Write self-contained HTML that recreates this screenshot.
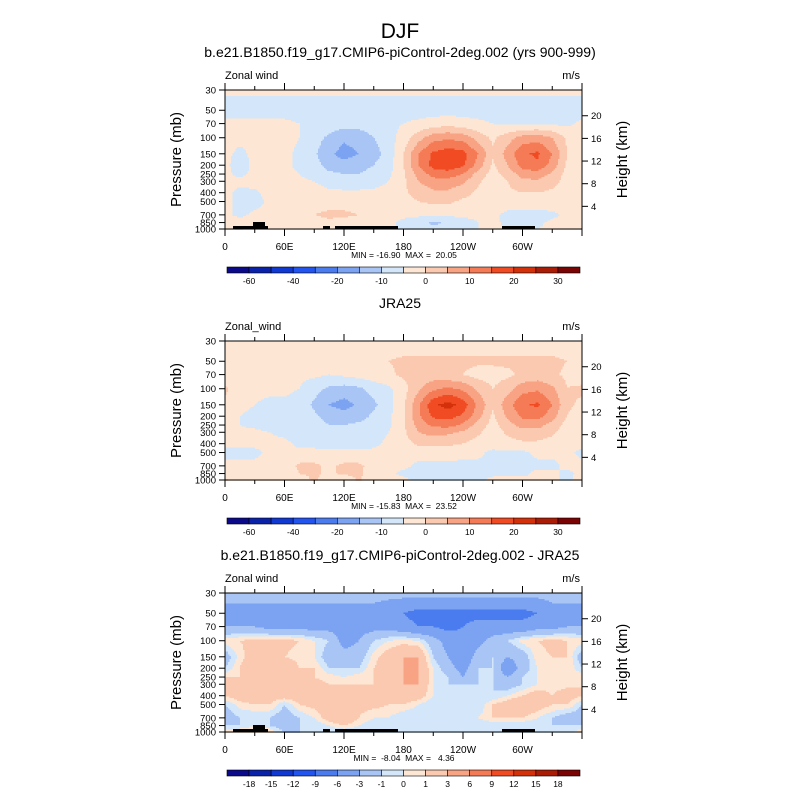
<!DOCTYPE html>
<html><head><meta charset="utf-8"><style>
html,body{margin:0;padding:0;background:#fff}
svg{font-family:"Liberation Sans",sans-serif}
text{white-space:pre}
</style></head><body>
<svg id="s" width="800" height="800" viewBox="0 0 800 800" xmlns="http://www.w3.org/2000/svg">
<rect width="800" height="800" fill="#fff"/>
<text x="400" y="38" font-size="21" text-anchor="middle">DJF</text>
</svg>
<script>
const pLevels=[30,50,70,100,150,200,250,300,400,500,700,850,1000];
const lonTickLabels=["0","60E","120E","180","120W","60W"];
const pTickLabels=[30,50,70,100,150,200,250,300,400,500,700,850,1000];
const hTickLabels=[4,8,12,16,20];
const colors=["#0a0a8a","#0a22aa","#1038d2","#2254f0","#4a7cf0","#7ca2f2","#a9c5f5","#d4e7fa","#fde7d4","#fbc9b0","#f8a484","#f57b56","#f04b22","#d4300a","#aa1c06","#7a0303"];
const bounds1=[-50,-40,-30,-20,-15,-10,-5,0,5,10,15,20,25,30,35];
const labels1=[-60,-40,-20,-10,0,10,20,30];
const labelIdx1=[1,3,5,7,9,11,13,15];
const bounds3=[-18,-15,-12,-9,-6,-3,-1,0,1,3,6,9,12,15,18];
const labels3=[-18,-15,-12,-9,-6,-3,-1,0,1,3,6,9,12,15,18];
const labelIdx3=[1,2,3,4,5,6,7,8,9,10,11,12,13,14,15];
const u1=[
[1,1,1,1,1,1,1,1,1,1,1,1,1,1,1,1,1,1,1,1,1,1,1,1,1],
[-2,-2,-2,-2,-2,-2,-2,-2,-2,-2,-2,-2,-2,-2,-2,-2,-2,-2,-2,-2,-2,-2,-2,-2,-2],
[1,1,1,1,1,0,-1,-2,-3,-3,-2,-1,0,1,2,3,2,1,0,-1,-1,-1,-1,-1,1],
[2,1,1,1,2,0,-3,-6,-9,-8,-5,-2,2,8,13,14,13,8,4,8,12,13,10,4,2],
[1,-1,1,1,1,-1,-4,-9,-12,-10,-7,-3,5,15,21,23,22,15,6,12,19,21,15,5,1],
[1,-2,1,2,1,-1,-3,-7,-8,-7,-5,-2,5,15,22,23,21,13,4,10,17,19,13,4,1],
[1,-1,1,2,1,0,-2,-4,-5,-5,-3,-1,4,12,17,18,15,8,3,7,12,13,9,3,1],
[1,1,2,2,2,1,0,-2,-3,-3,-2,0,4,10,13,13,11,6,2,5,9,9,7,3,1],
[1,-1,-1,2,2,2,2,1,1,1,1,2,4,7,9,9,7,4,2,4,5,5,4,2,1],
[1,-1,-2,1,2,3,3,3,3,3,2,2,3,5,6,6,4,3,2,2,3,3,3,1,1],
[1,-1,1,2,2,3,5,6,6,5,3,2,1,1,1,1,1,1,1,-1,-2,-2,-1,1,1],
[2,2,1,1,2,2,3,4,3,2,1,1,-1,-3,-6,-4,-2,0,1,-1,-2,-1,1,1,2],
[3,6,2,1,2,2,3,2,2,1,1,1,-1,-3,-4,-3,-2,0,1,0,0,0,1,1,3]];
const u2=[
[2,2,2,2,2,2,2,2,2,2,2,2,2,2,2,2,2,2,2,2,2,2,2,2,2],
[2,2,2,2,2,2,2,2,3,4,5,5,6,6,6,6,6,6,6,6,6,6,6,5,2],
[2,2,2,2,2,1,1,0,1,2,3,4,6,7,7,6,5,3,3,4,6,7,6,4,2],
[6,2,1,1,1,0,-3,-6,-7,-6,-3,-1,3,9,14,16,14,9,5,8,13,14,11,5,6],
[4,1,0,-1,-1,-2,-6,-10,-12,-9,-6,-2,4,14,24,27,23,14,6,13,19,21,15,6,4],
[2,0,-1,-2,-2,-2,-4,-7,-8,-7,-4,-1,4,14,21,22,19,12,4,11,16,17,12,5,2],
[1,0,-1,-2,-2,-2,-3,-5,-5,-4,-3,-1,4,12,16,17,14,8,3,8,12,12,8,3,1],
[1,1,1,0,-1,-2,-2,-3,-3,-3,-2,0,4,10,12,11,9,6,2,6,8,8,6,2,1],
[1,1,1,1,1,-1,-1,-2,-2,-2,-1,1,3,6,6,6,5,3,2,3,4,4,3,2,1],
[-1,-1,-1,1,1,1,1,1,1,1,1,1,1,2,2,2,1,1,-1,-1,-1,1,1,1,-1],
[1,1,1,2,2,6,6,4,6,6,3,1,1,-1,-1,-1,-1,-1,-1,-1,-1,-1,-1,1,1],
[1,1,2,2,2,5,6,4,6,6,2,1,-1,-1,-2,-2,-1,-1,-1,-1,-1,1,1,-1,1],
[6,1,2,1,1,2,6,2,1,6,1,1,1,-1,-2,-2,-1,-1,1,2,1,1,1,-1,2]];
const u3=[
[-2,-2,-2,-2,-2,-2,-2,-2,-2,-2,-2,-2,-2,-2,-2,-2,-2,-2,-2,-2,-2,-2,-2,-2,-2],
[-4,-4,-4,-4,-4,-4,-4,-4,-4,-4,-4,-5,-6,-7,-7,-7,-7,-7,-7,-7,-7,-6,-4,-4,-4],
[-3,-3,-3,-4,-4,-4,-4,-4,-4,-4,-4,-4,-5,-6,-6,-7,-6,-5,-5,-5,-5,-4,-4,-3,-3],
[0.5,1,1.5,1.5,1.5,1,0,-1,-4,-3,-1,0,0.5,0,-2,-4,-5,-4,-2,-1,0.5,1,1.5,1,0.5],
[-2,0.5,2,1.5,1,0.5,0,-2,-2,-2,0.5,2,3,3,-1,-3,-5,-2,-1,-3,-2,0.5,1,1,-2],
[-1,1,3,2,3,1,1,-1,-1,-1,1,2,3,3,0,-2,-4,-1,-1,-5,-2,0,0.5,1,-1],
[1,1,2,2,2,1.5,1,0.5,0,0.5,1,2,3,3,0,-1,-3,-1,-1,-3,-1,0,0.5,0.5,1],
[1,2,2,2,2,2,1.5,1,1,1,1,2,3,3,0,-1,-1,-1,-1,-2,-1,0,0.5,0.5,1],
[1,2,2,2,2,2,2,1.5,1,1,1.5,2,2,2,0,-1,-1,-1,-1,0,1,2,1,2,1],
[-1,0.5,1,1,-1,1,1.5,2,2,1.5,1.5,1,1,0,-1,-1,-1,-1,1,2,3,2,1,1,-1],
[-2,-1,-1,-1,-2,-1,0,2,3,1,0,0,-1,-1,-1,-1,-1,0,1,1,1,0,-1,-2,-2],
[-1,-1,0,-1,-2,-1,-1,0,1,0,-1,-1,-1,-1,-1,-1,-1,-1,-1,-1,-1,-1,-1,-1,-1],
[1,1,1,1,-1,-1,-1,-1,-1,-1,-1,-1,-1,-1,-1,-1,-1,-1,-1,-1,-1,-1,-1,-1,1]];
const panels=[
 {top:90,title:"b.e21.B1850.f19_g17.CMIP6-piControl-2deg.002 (yrs 900-999)",lab:"Zonal wind",data:u1,bounds:bounds1,labs:labels1,lidx:labelIdx1,mm:"MIN = -16.90  MAX =  20.05",topo:true},
 {top:341,title:"JRA25",lab:"Zonal_wind",data:u2,bounds:bounds1,labs:labels1,lidx:labelIdx1,mm:"MIN = -15.83  MAX =  23.52",topo:false},
 {top:593,title:"b.e21.B1850.f19_g17.CMIP6-piControl-2deg.002 - JRA25",lab:"Zonal wind",data:u3,bounds:bounds3,labs:labels3,lidx:labelIdx3,mm:"MIN =  -8.04  MAX =   4.36",topo:true}];
const NS="http://www.w3.org/2000/svg";
const svg=document.getElementById('s');
const X0=225,X1=582,PH=139,LR=Math.log10(1000/30);
function mk(t,a,p){const e=document.createElementNS(NS,t);for(const k in a)e.setAttribute(k,a[k]);(p||svg).appendChild(e);return e;}
function xs(lon){return X0+lon/360*(X1-X0);}
function ys(p,top){return top+PH-Math.log10(1000/p)/LR*PH;}
function colorOf(v,b){let i=0;while(i<b.length&&v>=b[i])i++;return colors[i];}
function sample(d,lon,p){
 const lp=Math.log(p);let j=0;
 while(j<pLevels.length-2&&Math.log(pLevels[j+1])<lp)j++;
 const a=Math.log(pLevels[j]),b=Math.log(pLevels[j+1]);
 let t=(lp-a)/(b-a);t=Math.max(0,Math.min(1,t));
 let fi=lon/15;let i=Math.min(23,Math.floor(fi));let s=fi-i;
 const v0=d[j][i]*(1-s)+d[j][i+1]*s, v1=d[j+1][i]*(1-s)+d[j+1][i+1]*s;
 return v0*(1-t)+v1*t;}
panels.forEach((P,k)=>{
 const top=P.top,bot=top+PH;
 const g=mk('g',{});
 
 
 const tt=mk('text',{x:400,y:top-33,'font-size':14,'text-anchor':'middle'},g);tt.textContent=P.title;
 
 
 const cg=mk('g',{},g);
 
 
 const dy=1.5,dx=1.5;
 for(let y=top;y<bot;y+=dy){
  const p=1000*Math.pow(10,-(bot-(y+dy/2))/PH*LR);
  let runStart=X0,runCol=null;
  for(let x=X0;x<=X1;x+=dx){
   let col=null;
   if(x<X1){const lon=(x+dx/2-X0)/(X1-X0)*360;col=colorOf(sample(P.data,lon,p),P.bounds);}
   if(col!==runCol){
    if(runCol!==null){const r=mk('rect',{x:runStart,y:y,width:Math.min(x,X1)-runStart+0.4,height:dy+0.4,fill:runCol},cg);
     
     }
    runStart=x;runCol=col;}
  }
 }
 if(P.topo){
  [[233,268,3],[253,265,7],[323,330,3],[335,398,3],[502,535,3]].forEach(t=>{
   const r=mk('rect',{x:t[0],y:bot-t[2],width:t[1]-t[0],height:t[2],fill:'#000'},g);
   
   });
 }
 const fr=mk('rect',{x:X0,y:top,width:X1-X0,height:PH,fill:'none',stroke:'#000','stroke-width':1},g);
 
 
 for(let lon=0;lon<=360;lon+=30){
  const x=xs(lon),len=lon%60===0?7:4;
  mk('line',{x1:x,x2:x,y1:bot,y2:bot+len,stroke:'#000'},g);
  mk('line',{x1:x,x2:x,y1:top,y2:top-len,stroke:'#000'},g);
  if(lon%60===0&&lon<360){const t=mk('text',{x:x,y:bot+21,'font-size':10,'text-anchor':'middle'},g);t.textContent=lonTickLabels[lon/60];
   
   }
 }
 pTickLabels.forEach(p=>{const y=ys(p,top);
  mk('line',{x1:X0,x2:X0-6,y1:y,y2:y,stroke:'#000'},g);
  const t=mk('text',{x:X0-9,y:y+3.5,'font-size':9.5,'text-anchor':'end'},g);t.textContent=p;
  
  });
 hTickLabels.forEach(h=>{const p=1000*Math.exp(-h/7);const y=ys(p,top);
  mk('line',{x1:X1,x2:X1+6,y1:y,y2:y,stroke:'#000'},g);
  const t=mk('text',{x:X1+9,y:y+3.5,'font-size':9.5},g);t.textContent=h;
  
  });
 let t=mk('text',{x:X0,y:top-11,'font-size':11},g);t.textContent=P.lab;
 
 
 t=mk('text',{x:X1-2,y:top-11,'font-size':11,'text-anchor':'end'},g);t.textContent="m/s";
 
 
 t=mk('text',{x:0,y:0,'font-size':15,'text-anchor':'middle',transform:`translate(181,${top+PH/2}) rotate(-90)`},g);t.textContent="Pressure (mb)";
 
 
 t=mk('text',{x:0,y:0,'font-size':15,'text-anchor':'middle',transform:`translate(627,${top+PH/2}) rotate(-90)`},g);t.textContent="Height (km)";
 
 
 t=mk('text',{x:404,y:bot+29,'font-size':8.5,'text-anchor':'middle'},g);t.textContent=P.mm;
 
 
 const cb=mk('g',{},g);
 
 
 const cy=bot+38,bw=(580-227)/16;
 colors.forEach((c,i)=>{const r=mk('rect',{x:227+i*bw,y:cy,width:bw,height:6,fill:c,stroke:'#000','stroke-width':0.6},cb);
  
  });
 P.labs.forEach((v,n)=>{const i=P.lidx[n];const tl=mk('text',{x:227+i*bw,y:cy+17,'font-size':8.5,'text-anchor':'middle'},cb);tl.textContent=v;
  
  });
});
</script>
</body></html>
